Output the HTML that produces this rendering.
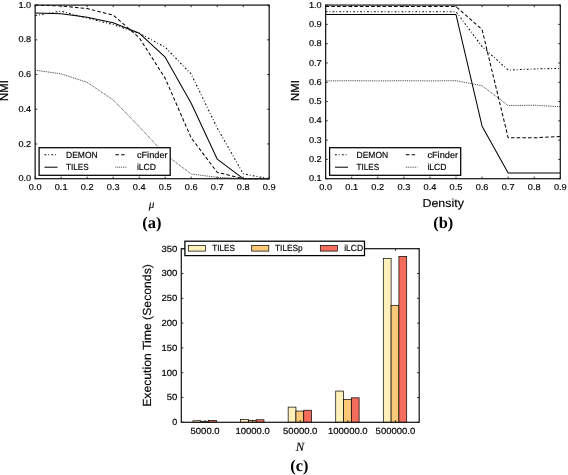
<!DOCTYPE html>
<html><head><meta charset="utf-8"><title>Figure</title>
<style>html,body{margin:0;padding:0;background:#fff}svg{display:block;will-change:transform;opacity:0.999}</style></head>
<body>
<svg width="568" height="475" viewBox="0 0 568 475" text-rendering="geometricPrecision">
<rect width="568" height="475" fill="#fff"/>
<g fill="none" stroke-linejoin="round">
<polyline points="35.15,15.52 61.16,11.18 87.16,18.12 113.17,24.54 139.17,33.22 165.18,47.28 191.18,74.02 217.19,128.01 243.19,173.84 269.20,178.70" stroke="#000" stroke-width="1.02" stroke-dasharray="1.8 1.95 0.9 2.25"/>
<polyline points="35.15,12.91 61.16,13.78 87.16,17.25 113.17,22.81 139.17,33.22 165.18,57.18 191.18,103.18 217.19,159.08 243.19,178.70 269.20,178.70" stroke="#000" stroke-width="1.02"/>
<polyline points="35.15,5.10 61.16,5.97 87.16,8.57 113.17,15.17 139.17,37.56 165.18,78.36 191.18,137.90 217.19,172.28 243.19,178.70 269.20,178.70" stroke="#000" stroke-width="1.02" stroke-dasharray="3.5 2.2"/>
<polyline points="35.15,70.20 61.16,73.85 87.16,82.35 113.17,99.89 139.17,126.62 165.18,154.40 191.18,174.01 217.19,177.31 243.19,178.70 269.20,178.70" stroke="#2a2a2a" stroke-width="0.9" stroke-dasharray="0.95 0.9"/>
</g>
<path d="M35.15,178.70v-2.1M35.15,5.10v2.1M61.16,178.70v-2.1M61.16,5.10v2.1M87.16,178.70v-2.1M87.16,5.10v2.1M113.17,178.70v-2.1M113.17,5.10v2.1M139.17,178.70v-2.1M139.17,5.10v2.1M165.18,178.70v-2.1M165.18,5.10v2.1M191.18,178.70v-2.1M191.18,5.10v2.1M217.19,178.70v-2.1M217.19,5.10v2.1M243.19,178.70v-2.1M243.19,5.10v2.1M269.20,178.70v-2.1M269.20,5.10v2.1M35.15,178.70h2.1M269.20,178.70h-2.1M35.15,143.98h2.1M269.20,143.98h-2.1M35.15,109.26h2.1M269.20,109.26h-2.1M35.15,74.54h2.1M269.20,74.54h-2.1M35.15,39.82h2.1M269.20,39.82h-2.1M35.15,5.10h2.1M269.20,5.10h-2.1" stroke="#000" stroke-width="0.8" fill="none"/>
<rect x="35.15" y="5.10" width="234.05" height="173.60" fill="none" stroke="#1a1a1a" stroke-width="1.25"/>
<text x="35.15" y="189.65" font-family="Liberation Sans, sans-serif" font-size="8.61" text-anchor="middle" fill="#000" stroke="#000" stroke-width="0.16" textLength="12.80" lengthAdjust="spacingAndGlyphs">0.0</text>
<text x="61.16" y="189.65" font-family="Liberation Sans, sans-serif" font-size="8.61" text-anchor="middle" fill="#000" stroke="#000" stroke-width="0.16" textLength="12.80" lengthAdjust="spacingAndGlyphs">0.1</text>
<text x="87.16" y="189.65" font-family="Liberation Sans, sans-serif" font-size="8.61" text-anchor="middle" fill="#000" stroke="#000" stroke-width="0.16" textLength="12.80" lengthAdjust="spacingAndGlyphs">0.2</text>
<text x="113.17" y="189.65" font-family="Liberation Sans, sans-serif" font-size="8.61" text-anchor="middle" fill="#000" stroke="#000" stroke-width="0.16" textLength="12.80" lengthAdjust="spacingAndGlyphs">0.3</text>
<text x="139.17" y="189.65" font-family="Liberation Sans, sans-serif" font-size="8.61" text-anchor="middle" fill="#000" stroke="#000" stroke-width="0.16" textLength="12.80" lengthAdjust="spacingAndGlyphs">0.4</text>
<text x="165.18" y="189.65" font-family="Liberation Sans, sans-serif" font-size="8.61" text-anchor="middle" fill="#000" stroke="#000" stroke-width="0.16" textLength="12.80" lengthAdjust="spacingAndGlyphs">0.5</text>
<text x="191.18" y="189.65" font-family="Liberation Sans, sans-serif" font-size="8.61" text-anchor="middle" fill="#000" stroke="#000" stroke-width="0.16" textLength="12.80" lengthAdjust="spacingAndGlyphs">0.6</text>
<text x="217.19" y="189.65" font-family="Liberation Sans, sans-serif" font-size="8.61" text-anchor="middle" fill="#000" stroke="#000" stroke-width="0.16" textLength="12.80" lengthAdjust="spacingAndGlyphs">0.7</text>
<text x="243.19" y="189.65" font-family="Liberation Sans, sans-serif" font-size="8.61" text-anchor="middle" fill="#000" stroke="#000" stroke-width="0.16" textLength="12.80" lengthAdjust="spacingAndGlyphs">0.8</text>
<text x="269.20" y="189.65" font-family="Liberation Sans, sans-serif" font-size="8.61" text-anchor="middle" fill="#000" stroke="#000" stroke-width="0.16" textLength="12.80" lengthAdjust="spacingAndGlyphs">0.9</text>
<text x="31.25" y="181.30" font-family="Liberation Sans, sans-serif" font-size="8.61" text-anchor="end" fill="#000" stroke="#000" stroke-width="0.16" textLength="12.80" lengthAdjust="spacingAndGlyphs">0.0</text>
<text x="31.25" y="146.58" font-family="Liberation Sans, sans-serif" font-size="8.61" text-anchor="end" fill="#000" stroke="#000" stroke-width="0.16" textLength="12.80" lengthAdjust="spacingAndGlyphs">0.2</text>
<text x="31.25" y="111.86" font-family="Liberation Sans, sans-serif" font-size="8.61" text-anchor="end" fill="#000" stroke="#000" stroke-width="0.16" textLength="12.80" lengthAdjust="spacingAndGlyphs">0.4</text>
<text x="31.25" y="77.14" font-family="Liberation Sans, sans-serif" font-size="8.61" text-anchor="end" fill="#000" stroke="#000" stroke-width="0.16" textLength="12.80" lengthAdjust="spacingAndGlyphs">0.6</text>
<text x="31.25" y="42.42" font-family="Liberation Sans, sans-serif" font-size="8.61" text-anchor="end" fill="#000" stroke="#000" stroke-width="0.16" textLength="12.80" lengthAdjust="spacingAndGlyphs">0.8</text>
<text x="31.25" y="7.70" font-family="Liberation Sans, sans-serif" font-size="8.61" text-anchor="end" fill="#000" stroke="#000" stroke-width="0.16" textLength="12.80" lengthAdjust="spacingAndGlyphs">1.0</text>
<text x="8.30" y="90.60" font-family="Liberation Sans, sans-serif" font-size="11.66" text-anchor="middle" fill="#000" stroke="#000" stroke-width="0.25" textLength="20.78" lengthAdjust="spacingAndGlyphs" transform="rotate(-90 8.30 90.60)">NMI</text>
<rect x="39.10" y="147.7" width="131.10" height="27.60" fill="#fff" stroke="#000" stroke-width="1.25"/>
<line x1="44.50" y1="154.7" x2="57.50" y2="154.7" stroke="#000" stroke-width="1.02" stroke-dasharray="1.8 1.95 0.9 2.25"/>
<text x="66.10" y="157.65" font-family="Liberation Sans, sans-serif" font-size="8.88" text-anchor="start" fill="#000" stroke="#000" stroke-width="0.16" textLength="31.54" lengthAdjust="spacingAndGlyphs">DEMON</text>
<line x1="44.50" y1="167.2" x2="57.50" y2="167.2" stroke="#000" stroke-width="1.02"/>
<text x="66.10" y="170.15" font-family="Liberation Sans, sans-serif" font-size="8.88" text-anchor="start" fill="#000" stroke="#000" stroke-width="0.16" textLength="22.66" lengthAdjust="spacingAndGlyphs">TILES</text>
<line x1="115.40" y1="154.7" x2="126.90" y2="154.7" stroke="#000" stroke-width="1.02" stroke-dasharray="3.5 2.2"/>
<text x="136.90" y="157.65" font-family="Liberation Sans, sans-serif" font-size="8.88" text-anchor="start" fill="#000" stroke="#000" stroke-width="0.16" textLength="30.69" lengthAdjust="spacingAndGlyphs">cFinder</text>
<line x1="115.40" y1="167.2" x2="126.90" y2="167.2" stroke="#2a2a2a" stroke-width="0.9" stroke-dasharray="0.95 0.9"/>
<text x="136.90" y="170.15" font-family="Liberation Sans, sans-serif" font-size="8.88" text-anchor="start" fill="#000" stroke="#000" stroke-width="0.16" textLength="19.11" lengthAdjust="spacingAndGlyphs">iLCD</text>
<g fill="none" stroke-linejoin="round">
<polyline points="325.65,11.66 351.72,11.66 377.79,11.66 403.87,11.66 429.94,11.66 456.01,11.66 482.08,46.57 508.16,70.10 534.23,68.95 560.30,68.37" stroke="#000" stroke-width="1.02" stroke-dasharray="1.8 1.95 0.9 2.25"/>
<polyline points="325.65,14.55 351.72,14.55 377.79,14.55 403.87,14.55 429.94,14.55 456.01,14.55 482.08,126.23 508.16,172.91 534.23,172.91 560.30,172.91" stroke="#000" stroke-width="1.02"/>
<polyline points="325.65,6.55 351.72,6.55 377.79,6.55 403.87,6.55 429.94,6.55 456.01,6.55 482.08,29.60 508.16,137.81 534.23,137.81 560.30,136.46" stroke="#000" stroke-width="1.02" stroke-dasharray="3.5 2.2"/>
<polyline points="325.65,80.91 351.72,80.71 377.79,80.91 403.87,80.71 429.94,80.91 456.01,80.71 482.08,85.73 508.16,105.60 534.23,105.21 560.30,106.75" stroke="#2a2a2a" stroke-width="0.9" stroke-dasharray="0.95 0.9"/>
</g>
<path d="M325.65,178.70v-2.1M325.65,5.10v2.1M351.72,178.70v-2.1M351.72,5.10v2.1M377.79,178.70v-2.1M377.79,5.10v2.1M403.87,178.70v-2.1M403.87,5.10v2.1M429.94,178.70v-2.1M429.94,5.10v2.1M456.01,178.70v-2.1M456.01,5.10v2.1M482.08,178.70v-2.1M482.08,5.10v2.1M508.16,178.70v-2.1M508.16,5.10v2.1M534.23,178.70v-2.1M534.23,5.10v2.1M560.30,178.70v-2.1M560.30,5.10v2.1M325.65,178.70h2.1M560.30,178.70h-2.1M325.65,159.41h2.1M560.30,159.41h-2.1M325.65,140.12h2.1M560.30,140.12h-2.1M325.65,120.83h2.1M560.30,120.83h-2.1M325.65,101.54h2.1M560.30,101.54h-2.1M325.65,82.26h2.1M560.30,82.26h-2.1M325.65,62.97h2.1M560.30,62.97h-2.1M325.65,43.68h2.1M560.30,43.68h-2.1M325.65,24.39h2.1M560.30,24.39h-2.1M325.65,5.10h2.1M560.30,5.10h-2.1" stroke="#000" stroke-width="0.8" fill="none"/>
<rect x="325.65" y="5.10" width="234.65" height="173.60" fill="none" stroke="#1a1a1a" stroke-width="1.25"/>
<text x="325.65" y="189.65" font-family="Liberation Sans, sans-serif" font-size="8.61" text-anchor="middle" fill="#000" stroke="#000" stroke-width="0.16" textLength="12.80" lengthAdjust="spacingAndGlyphs">0.0</text>
<text x="351.72" y="189.65" font-family="Liberation Sans, sans-serif" font-size="8.61" text-anchor="middle" fill="#000" stroke="#000" stroke-width="0.16" textLength="12.80" lengthAdjust="spacingAndGlyphs">0.1</text>
<text x="377.79" y="189.65" font-family="Liberation Sans, sans-serif" font-size="8.61" text-anchor="middle" fill="#000" stroke="#000" stroke-width="0.16" textLength="12.80" lengthAdjust="spacingAndGlyphs">0.2</text>
<text x="403.87" y="189.65" font-family="Liberation Sans, sans-serif" font-size="8.61" text-anchor="middle" fill="#000" stroke="#000" stroke-width="0.16" textLength="12.80" lengthAdjust="spacingAndGlyphs">0.3</text>
<text x="429.94" y="189.65" font-family="Liberation Sans, sans-serif" font-size="8.61" text-anchor="middle" fill="#000" stroke="#000" stroke-width="0.16" textLength="12.80" lengthAdjust="spacingAndGlyphs">0.4</text>
<text x="456.01" y="189.65" font-family="Liberation Sans, sans-serif" font-size="8.61" text-anchor="middle" fill="#000" stroke="#000" stroke-width="0.16" textLength="12.80" lengthAdjust="spacingAndGlyphs">0.5</text>
<text x="482.08" y="189.65" font-family="Liberation Sans, sans-serif" font-size="8.61" text-anchor="middle" fill="#000" stroke="#000" stroke-width="0.16" textLength="12.80" lengthAdjust="spacingAndGlyphs">0.6</text>
<text x="508.16" y="189.65" font-family="Liberation Sans, sans-serif" font-size="8.61" text-anchor="middle" fill="#000" stroke="#000" stroke-width="0.16" textLength="12.80" lengthAdjust="spacingAndGlyphs">0.7</text>
<text x="534.23" y="189.65" font-family="Liberation Sans, sans-serif" font-size="8.61" text-anchor="middle" fill="#000" stroke="#000" stroke-width="0.16" textLength="12.80" lengthAdjust="spacingAndGlyphs">0.8</text>
<text x="560.30" y="189.65" font-family="Liberation Sans, sans-serif" font-size="8.61" text-anchor="middle" fill="#000" stroke="#000" stroke-width="0.16" textLength="12.80" lengthAdjust="spacingAndGlyphs">0.9</text>
<text x="321.75" y="181.30" font-family="Liberation Sans, sans-serif" font-size="8.61" text-anchor="end" fill="#000" stroke="#000" stroke-width="0.16" textLength="12.80" lengthAdjust="spacingAndGlyphs">0.1</text>
<text x="321.75" y="162.01" font-family="Liberation Sans, sans-serif" font-size="8.61" text-anchor="end" fill="#000" stroke="#000" stroke-width="0.16" textLength="12.80" lengthAdjust="spacingAndGlyphs">0.2</text>
<text x="321.75" y="142.72" font-family="Liberation Sans, sans-serif" font-size="8.61" text-anchor="end" fill="#000" stroke="#000" stroke-width="0.16" textLength="12.80" lengthAdjust="spacingAndGlyphs">0.3</text>
<text x="321.75" y="123.43" font-family="Liberation Sans, sans-serif" font-size="8.61" text-anchor="end" fill="#000" stroke="#000" stroke-width="0.16" textLength="12.80" lengthAdjust="spacingAndGlyphs">0.4</text>
<text x="321.75" y="104.14" font-family="Liberation Sans, sans-serif" font-size="8.61" text-anchor="end" fill="#000" stroke="#000" stroke-width="0.16" textLength="12.80" lengthAdjust="spacingAndGlyphs">0.5</text>
<text x="321.75" y="84.86" font-family="Liberation Sans, sans-serif" font-size="8.61" text-anchor="end" fill="#000" stroke="#000" stroke-width="0.16" textLength="12.80" lengthAdjust="spacingAndGlyphs">0.6</text>
<text x="321.75" y="65.57" font-family="Liberation Sans, sans-serif" font-size="8.61" text-anchor="end" fill="#000" stroke="#000" stroke-width="0.16" textLength="12.80" lengthAdjust="spacingAndGlyphs">0.7</text>
<text x="321.75" y="46.28" font-family="Liberation Sans, sans-serif" font-size="8.61" text-anchor="end" fill="#000" stroke="#000" stroke-width="0.16" textLength="12.80" lengthAdjust="spacingAndGlyphs">0.8</text>
<text x="321.75" y="26.99" font-family="Liberation Sans, sans-serif" font-size="8.61" text-anchor="end" fill="#000" stroke="#000" stroke-width="0.16" textLength="12.80" lengthAdjust="spacingAndGlyphs">0.9</text>
<text x="321.75" y="7.70" font-family="Liberation Sans, sans-serif" font-size="8.61" text-anchor="end" fill="#000" stroke="#000" stroke-width="0.16" textLength="12.80" lengthAdjust="spacingAndGlyphs">1.0</text>
<text x="299.50" y="90.60" font-family="Liberation Sans, sans-serif" font-size="11.66" text-anchor="middle" fill="#000" stroke="#000" stroke-width="0.25" textLength="20.78" lengthAdjust="spacingAndGlyphs" transform="rotate(-90 299.50 90.60)">NMI</text>
<rect x="329.60" y="147.7" width="131.10" height="27.60" fill="#fff" stroke="#000" stroke-width="1.25"/>
<line x1="335.00" y1="154.7" x2="348.00" y2="154.7" stroke="#000" stroke-width="1.02" stroke-dasharray="1.8 1.95 0.9 2.25"/>
<text x="356.60" y="157.65" font-family="Liberation Sans, sans-serif" font-size="8.88" text-anchor="start" fill="#000" stroke="#000" stroke-width="0.16" textLength="31.54" lengthAdjust="spacingAndGlyphs">DEMON</text>
<line x1="335.00" y1="167.2" x2="348.00" y2="167.2" stroke="#000" stroke-width="1.02"/>
<text x="356.60" y="170.15" font-family="Liberation Sans, sans-serif" font-size="8.88" text-anchor="start" fill="#000" stroke="#000" stroke-width="0.16" textLength="22.66" lengthAdjust="spacingAndGlyphs">TILES</text>
<line x1="405.90" y1="154.7" x2="417.40" y2="154.7" stroke="#000" stroke-width="1.02" stroke-dasharray="3.5 2.2"/>
<text x="427.40" y="157.65" font-family="Liberation Sans, sans-serif" font-size="8.88" text-anchor="start" fill="#000" stroke="#000" stroke-width="0.16" textLength="30.69" lengthAdjust="spacingAndGlyphs">cFinder</text>
<line x1="405.90" y1="167.2" x2="417.40" y2="167.2" stroke="#2a2a2a" stroke-width="0.9" stroke-dasharray="0.95 0.9"/>
<text x="427.40" y="170.15" font-family="Liberation Sans, sans-serif" font-size="8.88" text-anchor="start" fill="#000" stroke="#000" stroke-width="0.16" textLength="19.11" lengthAdjust="spacingAndGlyphs">iLCD</text>
<text x="151.6" y="207.6" font-family="Liberation Serif, serif" font-style="italic" font-size="11.2" stroke="#000" stroke-width="0.1" text-anchor="middle">μ</text>
<text x="443.20" y="207.30" font-family="Liberation Sans, sans-serif" font-size="11.66" text-anchor="middle" fill="#000" stroke="#000" stroke-width="0.15" textLength="41.44" lengthAdjust="spacingAndGlyphs">Density</text>
<text x="151.8" y="227.8" font-family="Liberation Serif, serif" font-weight="bold" font-size="16.4" text-anchor="middle">(a)</text>
<text x="443.2" y="227.8" font-family="Liberation Serif, serif" font-weight="bold" font-size="16.4" text-anchor="middle">(b)</text>
<g stroke="#000" stroke-width="0.7">
<rect x="192.99" y="420.76" width="7.80" height="1.54" fill="#fff0b9"/>
<rect x="200.79" y="421.26" width="7.80" height="1.04" fill="#fdc877"/>
<rect x="208.59" y="420.41" width="7.80" height="1.89" fill="#f46d5c"/>
<rect x="240.57" y="419.52" width="7.80" height="2.78" fill="#fff0b9"/>
<rect x="248.37" y="420.51" width="7.80" height="1.79" fill="#fdc877"/>
<rect x="256.17" y="419.77" width="7.80" height="2.53" fill="#f46d5c"/>
<rect x="288.15" y="407.10" width="7.80" height="15.20" fill="#fff0b9"/>
<rect x="295.95" y="411.08" width="7.80" height="11.22" fill="#fdc877"/>
<rect x="303.75" y="410.23" width="7.80" height="12.07" fill="#f46d5c"/>
<rect x="335.73" y="391.06" width="7.80" height="31.24" fill="#fff0b9"/>
<rect x="343.53" y="399.51" width="7.80" height="22.79" fill="#fdc877"/>
<rect x="351.33" y="397.82" width="7.80" height="24.48" fill="#f46d5c"/>
<rect x="383.31" y="258.63" width="7.80" height="163.67" fill="#fff0b9"/>
<rect x="391.11" y="305.31" width="7.80" height="116.99" fill="#fdc877"/>
<rect x="398.91" y="256.39" width="7.80" height="165.91" fill="#f46d5c"/>
</g>
<path d="M205.09,422.30v-2.1M205.09,248.70v2.1M252.67,422.30v-2.1M252.67,248.70v2.1M300.25,422.30v-2.1M300.25,248.70v2.1M347.83,422.30v-2.1M347.83,248.70v2.1M395.41,422.30v-2.1M395.41,248.70v2.1M181.30,422.30h2.1M419.20,422.30h-2.1M181.30,397.50h2.1M419.20,397.50h-2.1M181.30,372.70h2.1M419.20,372.70h-2.1M181.30,347.90h2.1M419.20,347.90h-2.1M181.30,323.10h2.1M419.20,323.10h-2.1M181.30,298.30h2.1M419.20,298.30h-2.1M181.30,273.50h2.1M419.20,273.50h-2.1M181.30,248.70h2.1M419.20,248.70h-2.1" stroke="#000" stroke-width="0.8" fill="none"/>
<rect x="181.30" y="248.70" width="237.90" height="173.60" fill="none" stroke="#1a1a1a" stroke-width="1.25"/>
<text x="205.09" y="433.90" font-family="Liberation Sans, sans-serif" font-size="8.88" text-anchor="middle" fill="#000" stroke="#000" stroke-width="0.16" textLength="29.03" lengthAdjust="spacingAndGlyphs">5000.0</text>
<text x="252.67" y="433.90" font-family="Liberation Sans, sans-serif" font-size="8.88" text-anchor="middle" fill="#000" stroke="#000" stroke-width="0.16" textLength="34.31" lengthAdjust="spacingAndGlyphs">10000.0</text>
<text x="300.25" y="433.90" font-family="Liberation Sans, sans-serif" font-size="8.88" text-anchor="middle" fill="#000" stroke="#000" stroke-width="0.16" textLength="34.31" lengthAdjust="spacingAndGlyphs">50000.0</text>
<text x="347.83" y="433.90" font-family="Liberation Sans, sans-serif" font-size="8.88" text-anchor="middle" fill="#000" stroke="#000" stroke-width="0.16" textLength="39.59" lengthAdjust="spacingAndGlyphs">100000.0</text>
<text x="395.41" y="433.90" font-family="Liberation Sans, sans-serif" font-size="8.88" text-anchor="middle" fill="#000" stroke="#000" stroke-width="0.16" textLength="39.59" lengthAdjust="spacingAndGlyphs">500000.0</text>
<text x="177.30" y="425.20" font-family="Liberation Sans, sans-serif" font-size="8.88" text-anchor="end" fill="#000" stroke="#000" stroke-width="0.16">0</text>
<text x="177.30" y="400.40" font-family="Liberation Sans, sans-serif" font-size="8.88" text-anchor="end" fill="#000" stroke="#000" stroke-width="0.16" textLength="10.56" lengthAdjust="spacingAndGlyphs">50</text>
<text x="177.30" y="375.60" font-family="Liberation Sans, sans-serif" font-size="8.88" text-anchor="end" fill="#000" stroke="#000" stroke-width="0.16" textLength="15.84" lengthAdjust="spacingAndGlyphs">100</text>
<text x="177.30" y="350.80" font-family="Liberation Sans, sans-serif" font-size="8.88" text-anchor="end" fill="#000" stroke="#000" stroke-width="0.16" textLength="15.84" lengthAdjust="spacingAndGlyphs">150</text>
<text x="177.30" y="326.00" font-family="Liberation Sans, sans-serif" font-size="8.88" text-anchor="end" fill="#000" stroke="#000" stroke-width="0.16" textLength="15.84" lengthAdjust="spacingAndGlyphs">200</text>
<text x="177.30" y="301.20" font-family="Liberation Sans, sans-serif" font-size="8.88" text-anchor="end" fill="#000" stroke="#000" stroke-width="0.16" textLength="15.84" lengthAdjust="spacingAndGlyphs">250</text>
<text x="177.30" y="276.40" font-family="Liberation Sans, sans-serif" font-size="8.88" text-anchor="end" fill="#000" stroke="#000" stroke-width="0.16" textLength="15.84" lengthAdjust="spacingAndGlyphs">300</text>
<text x="177.30" y="251.60" font-family="Liberation Sans, sans-serif" font-size="8.88" text-anchor="end" fill="#000" stroke="#000" stroke-width="0.16" textLength="15.84" lengthAdjust="spacingAndGlyphs">350</text>
<text x="151.20" y="335.50" font-family="Liberation Sans, sans-serif" font-size="11.72" text-anchor="middle" fill="#000" stroke="#000" stroke-width="0.15" textLength="142.73" lengthAdjust="spacingAndGlyphs" transform="rotate(-90 151.20 335.50)">Execution Time (Seconds)</text>
<rect x="184.9" y="241.2" width="179.6" height="14.4" fill="#fff" stroke="#000" stroke-width="1.25"/>
<rect x="188.3" y="245.4" width="17.1" height="5.7" fill="#fff0b9" stroke="#000" stroke-width="0.7"/>
<text x="212.30" y="251.30" font-family="Liberation Sans, sans-serif" font-size="8.83" text-anchor="start" fill="#000" stroke="#000" stroke-width="0.16" textLength="22.52" lengthAdjust="spacingAndGlyphs">TILES</text>
<rect x="251.7" y="245.4" width="17.1" height="5.7" fill="#fdc877" stroke="#000" stroke-width="0.7"/>
<text x="275.00" y="251.30" font-family="Liberation Sans, sans-serif" font-size="8.83" text-anchor="start" fill="#000" stroke="#000" stroke-width="0.16" textLength="27.76" lengthAdjust="spacingAndGlyphs">TILESp</text>
<rect x="320.3" y="245.4" width="17.1" height="5.7" fill="#f46d5c" stroke="#000" stroke-width="0.7"/>
<text x="344.20" y="251.30" font-family="Liberation Sans, sans-serif" font-size="8.83" text-anchor="start" fill="#000" stroke="#000" stroke-width="0.16" textLength="19.00" lengthAdjust="spacingAndGlyphs">iLCD</text>
<text x="300.0" y="450.8" font-family="Liberation Serif, serif" font-style="italic" font-size="12.6" stroke="#000" stroke-width="0.15" text-anchor="middle">N</text>
<text x="299.4" y="471.3" font-family="Liberation Serif, serif" font-weight="bold" font-size="16.4" text-anchor="middle">(c)</text>
</svg>
</body></html>
